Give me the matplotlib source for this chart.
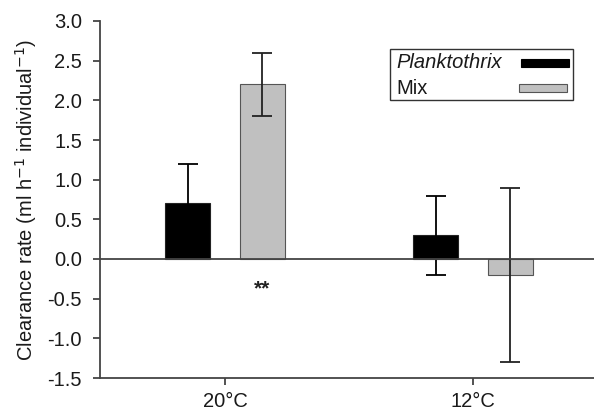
import matplotlib
matplotlib.use("Agg")
import matplotlib.pyplot as plt
from matplotlib.patches import Rectangle
import numpy as np

plt.rcParams['font.family'] = ['Liberation Sans', 'DejaVu Sans']

categories = ["20°C", "12°C"]
series_names = ["Planktothrix", "Mix"]
planktothrix = [0.7, 0.3]
planktothrix_err = [0.5, 0.5]
mix = [2.2, -0.2]
mix_err = [0.4, 1.1]
yticks = [-1.5, -1.0, -0.5, 0.0, 0.5, 1.0, 1.5, 2.0, 2.5, 3.0]

W, H = 594, 416
fig = plt.figure(figsize=(W/100, H/100), dpi=100)
ax = fig.add_axes([100/W, 38/H, 494/W, 357/H])

x = np.array([1.0, 2.0])
w = 0.181
off = 0.151
ec = '#222222'
FS = 14.5
txt_c = '#1a1a1a'
black_c = 'black'
gray_c = '#c0c0c0'
ax.bar(x - off, planktothrix, w, color=black_c, edgecolor=ec, linewidth=0.8,
       yerr=planktothrix_err, error_kw=dict(ecolor='black', elinewidth=1.3, capsize=7, capthick=1.3),
       label=series_names[0], zorder=2)
ax.bar(x + off, mix, w, color=gray_c, edgecolor='#555555', linewidth=0.8,
       yerr=mix_err, error_kw=dict(ecolor=ec, elinewidth=1.3, capsize=7, capthick=1.3),
       label=series_names[1], zorder=2)
ax.axhline(0, color='#444444', linewidth=1.3, zorder=3)

ax.text(x[0] + off, -0.38, "**", ha='center', va='center', fontsize=15, fontweight='bold', color='#222222')

ax.set_xlim(0.496, 2.488)
ax.set_ylim(-1.5, 3.0)
ax.set_yticks(yticks)
ax.set_yticklabels([f"{v:.1f}" for v in yticks])
ax.set_xticks(x)
ax.set_xticklabels(categories)
ax.spines['top'].set_visible(False)
ax.spines['right'].set_visible(False)
for s in ['left', 'bottom']:
    ax.spines[s].set_color('#444444')
    ax.spines[s].set_linewidth(1.3)
ax.tick_params(direction='out', length=5, width=1.3, color='#444444', labelsize=FS,
               labelcolor=txt_c)
ax.tick_params(axis='y', pad=8)
ax.tick_params(axis='x', pad=5)
ax.set_ylabel("Clearance rate (ml h$^{-1}$ individual$^{-1}$)", fontsize=FS, labelpad=6, color=txt_c)

# legend (drawn manually in figure pixel coordinates)
def fx(px):
    return px / W
def fy(py):
    return 1 - py / H
fig.patches.append(Rectangle((fx(390), fy(100)), fx(573) - fx(390), fy(49) - fy(100),
                             transform=fig.transFigure, fill=False, edgecolor='#333333', linewidth=1.0))
fig.text(fx(396), fy(63), series_names[0], fontsize=FS, fontstyle='italic', va='center', ha='left', color=txt_c)
fig.text(fx(396), fy(88), series_names[1], fontsize=FS, va='center', ha='left', color=txt_c)
fig.patches.append(Rectangle((fx(521), fy(67)), fx(569) - fx(521), fy(59) - fy(67),
                             transform=fig.transFigure, facecolor=black_c, edgecolor='black', linewidth=0.8))
fig.patches.append(Rectangle((fx(519), fy(92)), fx(567) - fx(519), fy(84) - fy(92),
                             transform=fig.transFigure, facecolor=gray_c, edgecolor='#555555', linewidth=0.8))

fig.savefig("out.png", dpi=100)
